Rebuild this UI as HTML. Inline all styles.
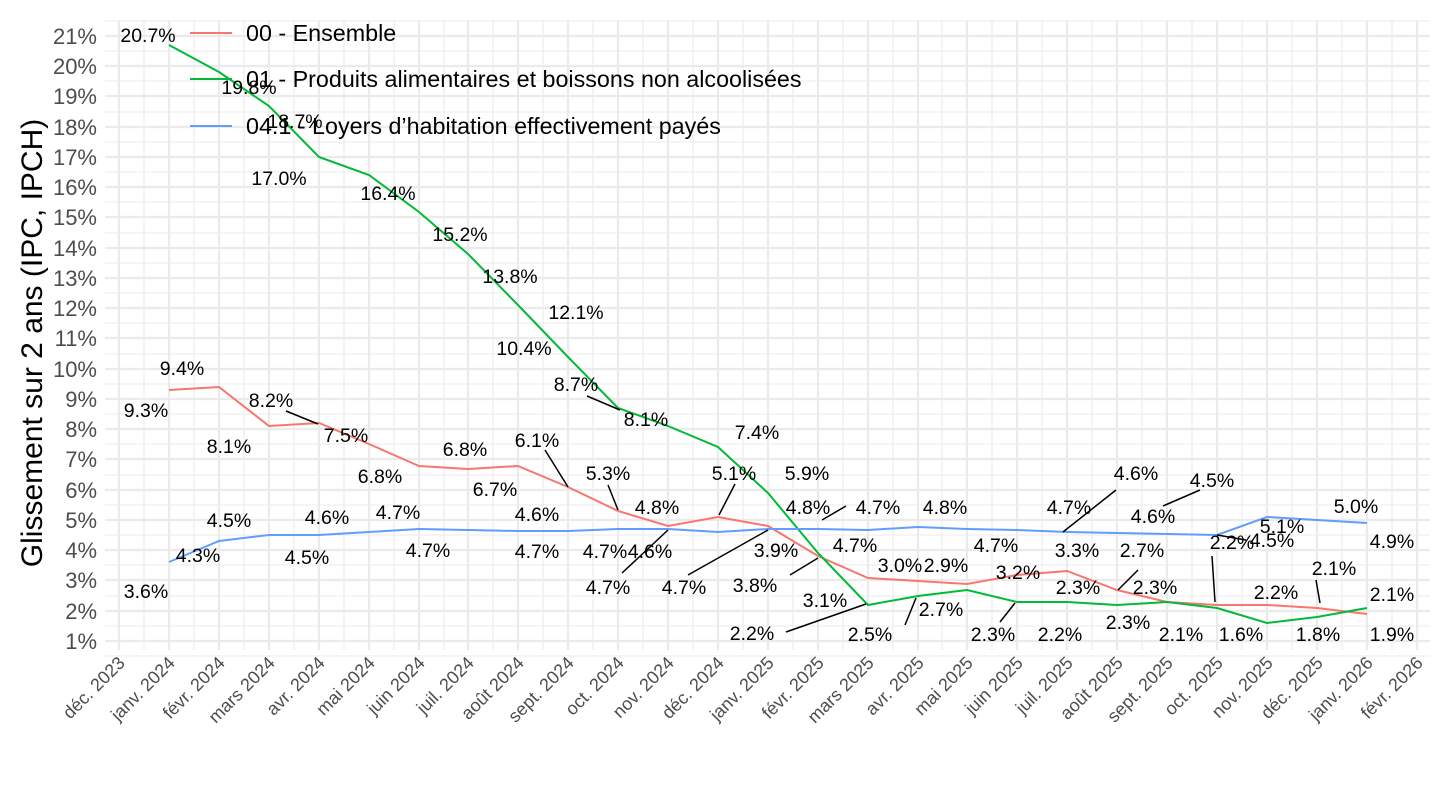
<!DOCTYPE html>
<html><head><meta charset="utf-8"><style>
body{margin:0;background:#fff}
svg{display:block;font-family:"Liberation Sans",sans-serif}
.yt{font-size:22px;fill:#4d4d4d;text-anchor:end}
.xt{font-size:18px;fill:#4d4d4d;text-anchor:end}
.lb{font-size:19.5px;fill:#000;text-anchor:middle}
.lg{font-size:23.3px;fill:#000}
</style></head><body>
<svg width="1440" height="810" viewBox="0 0 1440 810">
<g stroke="#ebebeb" stroke-width="1.1">
<line x1="105" x2="1430" y1="656" y2="656"/><line x1="105" x2="1430" y1="626" y2="626"/><line x1="105" x2="1430" y1="596" y2="596"/><line x1="105" x2="1430" y1="565" y2="565"/><line x1="105" x2="1430" y1="535" y2="535"/><line x1="105" x2="1430" y1="505" y2="505"/><line x1="105" x2="1430" y1="475" y2="475"/><line x1="105" x2="1430" y1="444" y2="444"/><line x1="105" x2="1430" y1="414" y2="414"/><line x1="105" x2="1430" y1="384" y2="384"/><line x1="105" x2="1430" y1="354" y2="354"/><line x1="105" x2="1430" y1="323" y2="323"/><line x1="105" x2="1430" y1="293" y2="293"/><line x1="105" x2="1430" y1="263" y2="263"/><line x1="105" x2="1430" y1="233" y2="233"/><line x1="105" x2="1430" y1="202" y2="202"/><line x1="105" x2="1430" y1="172" y2="172"/><line x1="105" x2="1430" y1="142" y2="142"/><line x1="105" x2="1430" y1="112" y2="112"/><line x1="105" x2="1430" y1="81" y2="81"/><line x1="105" x2="1430" y1="51" y2="51"/><line x1="105" x2="1430" y1="21" y2="21"/>
<line y1="20" y2="650" x1="144" x2="144"/><line y1="20" y2="650" x1="194" x2="194"/><line y1="20" y2="650" x1="244" x2="244"/><line y1="20" y2="650" x1="294" x2="294"/><line y1="20" y2="650" x1="344" x2="344"/><line y1="20" y2="650" x1="394" x2="394"/><line y1="20" y2="650" x1="444" x2="444"/><line y1="20" y2="650" x1="493" x2="493"/><line y1="20" y2="650" x1="543" x2="543"/><line y1="20" y2="650" x1="593" x2="593"/><line y1="20" y2="650" x1="643" x2="643"/><line y1="20" y2="650" x1="693" x2="693"/><line y1="20" y2="650" x1="743" x2="743"/><line y1="20" y2="650" x1="793" x2="793"/><line y1="20" y2="650" x1="843" x2="843"/><line y1="20" y2="650" x1="893" x2="893"/><line y1="20" y2="650" x1="942" x2="942"/><line y1="20" y2="650" x1="992" x2="992"/><line y1="20" y2="650" x1="1042" x2="1042"/><line y1="20" y2="650" x1="1092" x2="1092"/><line y1="20" y2="650" x1="1142" x2="1142"/><line y1="20" y2="650" x1="1192" x2="1192"/><line y1="20" y2="650" x1="1242" x2="1242"/><line y1="20" y2="650" x1="1292" x2="1292"/><line y1="20" y2="650" x1="1342" x2="1342"/><line y1="20" y2="650" x1="1392" x2="1392"/>
</g>
<g stroke="#ebebeb" stroke-width="2.2">
<line x1="105" x2="1430" y1="641" y2="641"/><line x1="105" x2="1430" y1="611" y2="611"/><line x1="105" x2="1430" y1="580" y2="580"/><line x1="105" x2="1430" y1="550" y2="550"/><line x1="105" x2="1430" y1="520" y2="520"/><line x1="105" x2="1430" y1="490" y2="490"/><line x1="105" x2="1430" y1="459" y2="459"/><line x1="105" x2="1430" y1="429" y2="429"/><line x1="105" x2="1430" y1="399" y2="399"/><line x1="105" x2="1430" y1="369" y2="369"/><line x1="105" x2="1430" y1="338" y2="338"/><line x1="105" x2="1430" y1="308" y2="308"/><line x1="105" x2="1430" y1="278" y2="278"/><line x1="105" x2="1430" y1="248" y2="248"/><line x1="105" x2="1430" y1="217" y2="217"/><line x1="105" x2="1430" y1="187" y2="187"/><line x1="105" x2="1430" y1="157" y2="157"/><line x1="105" x2="1430" y1="127" y2="127"/><line x1="105" x2="1430" y1="96" y2="96"/><line x1="105" x2="1430" y1="66" y2="66"/><line x1="105" x2="1430" y1="36" y2="36"/>
<line y1="20" y2="650" x1="119" x2="119"/><line y1="20" y2="650" x1="169" x2="169"/><line y1="20" y2="650" x1="219" x2="219"/><line y1="20" y2="650" x1="269" x2="269"/><line y1="20" y2="650" x1="319" x2="319"/><line y1="20" y2="650" x1="369" x2="369"/><line y1="20" y2="650" x1="419" x2="419"/><line y1="20" y2="650" x1="468" x2="468"/><line y1="20" y2="650" x1="518" x2="518"/><line y1="20" y2="650" x1="568" x2="568"/><line y1="20" y2="650" x1="618" x2="618"/><line y1="20" y2="650" x1="668" x2="668"/><line y1="20" y2="650" x1="718" x2="718"/><line y1="20" y2="650" x1="768" x2="768"/><line y1="20" y2="650" x1="818" x2="818"/><line y1="20" y2="650" x1="868" x2="868"/><line y1="20" y2="650" x1="918" x2="918"/><line y1="20" y2="650" x1="967" x2="967"/><line y1="20" y2="650" x1="1017" x2="1017"/><line y1="20" y2="650" x1="1067" x2="1067"/><line y1="20" y2="650" x1="1117" x2="1117"/><line y1="20" y2="650" x1="1167" x2="1167"/><line y1="20" y2="650" x1="1217" x2="1217"/><line y1="20" y2="650" x1="1267" x2="1267"/><line y1="20" y2="650" x1="1317" x2="1317"/><line y1="20" y2="650" x1="1367" x2="1367"/><line y1="20" y2="650" x1="1417" x2="1417"/>
</g>
<g class="yt">
<text x="97" y="649">1%</text><text x="97" y="619">2%</text><text x="97" y="588">3%</text><text x="97" y="558">4%</text><text x="97" y="528">5%</text><text x="97" y="498">6%</text><text x="97" y="467">7%</text><text x="97" y="437">8%</text><text x="97" y="407">9%</text><text x="97" y="377">10%</text><text x="97" y="346">11%</text><text x="97" y="316">12%</text><text x="97" y="286">13%</text><text x="97" y="256">14%</text><text x="97" y="225">15%</text><text x="97" y="195">16%</text><text x="97" y="165">17%</text><text x="97" y="135">18%</text><text x="97" y="104">19%</text><text x="97" y="74">20%</text><text x="97" y="44">21%</text>
</g>
<text transform="translate(42,343) rotate(-90)" text-anchor="middle" font-size="30" fill="#000">Glissement sur 2 ans (IPC, IPCH)</text>
<g class="xt">
<text transform="translate(126,664) rotate(-45)">déc. 2023</text><text transform="translate(176,664) rotate(-45)">janv. 2024</text><text transform="translate(226,664) rotate(-45)">févr. 2024</text><text transform="translate(276,664) rotate(-45)">mars 2024</text><text transform="translate(326,664) rotate(-45)">avr. 2024</text><text transform="translate(376,664) rotate(-45)">mai 2024</text><text transform="translate(426,664) rotate(-45)">juin 2024</text><text transform="translate(475,664) rotate(-45)">juil. 2024</text><text transform="translate(525,664) rotate(-45)">août 2024</text><text transform="translate(575,664) rotate(-45)">sept. 2024</text><text transform="translate(625,664) rotate(-45)">oct. 2024</text><text transform="translate(675,664) rotate(-45)">nov. 2024</text><text transform="translate(725,664) rotate(-45)">déc. 2024</text><text transform="translate(775,664) rotate(-45)">janv. 2025</text><text transform="translate(825,664) rotate(-45)">févr. 2025</text><text transform="translate(875,664) rotate(-45)">mars 2025</text><text transform="translate(925,664) rotate(-45)">avr. 2025</text><text transform="translate(974,664) rotate(-45)">mai 2025</text><text transform="translate(1024,664) rotate(-45)">juin 2025</text><text transform="translate(1074,664) rotate(-45)">juil. 2025</text><text transform="translate(1124,664) rotate(-45)">août 2025</text><text transform="translate(1174,664) rotate(-45)">sept. 2025</text><text transform="translate(1224,664) rotate(-45)">oct. 2025</text><text transform="translate(1274,664) rotate(-45)">nov. 2025</text><text transform="translate(1324,664) rotate(-45)">déc. 2025</text><text transform="translate(1374,664) rotate(-45)">janv. 2026</text><text transform="translate(1424,664) rotate(-45)">févr. 2026</text>
</g>
<g fill="none" stroke-width="2">
<polyline stroke="#f8766d" points="169,390 219,387 269,426 319,423 369,444 419,466 468,469 518,466 568,487 618,511 668,526 718,517 768,526 818,556 868,578 918,581 967,584 1017,575 1067,571 1117,590 1167,602 1217,605 1267,605 1317,608 1367,614"/>
<polyline stroke="#00ba38" points="169,45 219,72 269,106 319,157 369,175 419,212 468,254 518,305 568,357 618,408 668,426 718,447 768,493 818,553 868,605 918,596 967,590 1017,602 1067,602 1117,605 1167,602 1217,608 1267,623 1317,617 1367,608"/>
<polyline stroke="#619cff" points="169,562 219,541 269,535 319,535 369,532 419,529 468,530 518,531 568,531 618,529 668,529 718,532 768,529 818,529 868,530 918,527 967,529 1017,530 1067,532 1117,533 1167,534 1217,535 1267,517 1317,520 1367,523"/>
</g>
<g stroke="#000" stroke-width="1.5">
<line x1="286" y1="411" x2="318" y2="424"/><line x1="587" y1="396" x2="620" y2="410"/><line x1="545" y1="450" x2="568" y2="487"/><line x1="608" y1="485" x2="618" y2="510"/><line x1="735" y1="484" x2="719" y2="515"/><line x1="688" y1="575" x2="768" y2="530"/><line x1="622" y1="573" x2="668" y2="530"/><line x1="786" y1="632" x2="866" y2="604"/><line x1="790" y1="575" x2="818" y2="558"/><line x1="822" y1="520" x2="846" y2="506"/><line x1="1000" y1="622" x2="1015" y2="603"/><line x1="1063" y1="532" x2="1116" y2="490"/><line x1="1118" y1="590" x2="1138" y2="570"/><line x1="1163" y1="506" x2="1200" y2="490"/><line x1="1212" y1="556" x2="1215" y2="602"/><line x1="1246" y1="540" x2="1217" y2="535"/><line x1="1316" y1="580" x2="1320" y2="603"/><line x1="905" y1="625" x2="916" y2="598"/>
</g>
<g class="lb">
<text x="148" y="42">20.7%</text><text x="249" y="94">19.8%</text><text x="295" y="128">18.7%</text><text x="279" y="185">17.0%</text><text x="388" y="200">16.4%</text><text x="460" y="241">15.2%</text><text x="510" y="283">13.8%</text><text x="576" y="319">12.1%</text><text x="524" y="355">10.4%</text><text x="576" y="391">8.7%</text><text x="646" y="426">8.1%</text><text x="757" y="439">7.4%</text><text x="807" y="480">5.9%</text>
<text x="182" y="375">9.4%</text><text x="146" y="417">9.3%</text><text x="271" y="407">8.2%</text><text x="229" y="453">8.1%</text><text x="346" y="442">7.5%</text><text x="380" y="483">6.8%</text><text x="465" y="456">6.8%</text><text x="495" y="496">6.7%</text><text x="537" y="447">6.1%</text><text x="608" y="480">5.3%</text>
<text x="537" y="521">4.6%</text><text x="229" y="527">4.5%</text><text x="198" y="562">4.3%</text><text x="146" y="598">3.6%</text><text x="327" y="524">4.6%</text><text x="307" y="564">4.5%</text><text x="398" y="519">4.7%</text><text x="428" y="557">4.7%</text><text x="537" y="558">4.7%</text><text x="605" y="558">4.7%</text><text x="608" y="594">4.7%</text><text x="657" y="514">4.8%</text><text x="650" y="558">4.6%</text><text x="684" y="594">4.7%</text>
<text x="734" y="480">5.1%</text><text x="776" y="557">3.9%</text><text x="808" y="514">4.8%</text><text x="878" y="514">4.7%</text><text x="855" y="552">4.7%</text><text x="755" y="592">3.8%</text><text x="825" y="607">3.1%</text><text x="752" y="640">2.2%</text>
<text x="945" y="514">4.8%</text><text x="900" y="572">3.0%</text><text x="946" y="572">2.9%</text><text x="870" y="641">2.5%</text><text x="941" y="616">2.7%</text><text x="996" y="552">4.7%</text><text x="1018" y="579">3.2%</text><text x="993" y="641">2.3%</text>
<text x="1069" y="514">4.7%</text><text x="1136" y="480">4.6%</text><text x="1077" y="557">3.3%</text><text x="1078" y="594">2.3%</text><text x="1060" y="641">2.2%</text><text x="1142" y="557">2.7%</text><text x="1155" y="594">2.3%</text><text x="1128" y="629">2.3%</text>
<text x="1212" y="487">4.5%</text><text x="1153" y="523">4.6%</text><text x="1232" y="549">2.2%</text><text x="1272" y="547">4.5%</text><text x="1181" y="641">2.1%</text><text x="1241" y="641">1.6%</text><text x="1282" y="533">5.1%</text><text x="1356" y="513">5.0%</text><text x="1276" y="599">2.2%</text><text x="1334" y="575">2.1%</text><text x="1318" y="641">1.8%</text><text x="1392" y="548">4.9%</text><text x="1392" y="601">2.1%</text><text x="1392" y="641">1.9%</text>
</g>
<g stroke-width="2">
<line x1="190" x2="232" y1="33" y2="33" stroke="#f8766d"/><line x1="190" x2="232" y1="79" y2="79" stroke="#00ba38"/><line x1="190" x2="232" y1="126" y2="126" stroke="#619cff"/>
</g>
<g class="lg">
<text x="246" y="41">00 - Ensemble</text><text x="246" y="87">01 - Produits alimentaires et boissons non alcoolisées</text><text x="246" y="134">04.1 - Loyers d’habitation effectivement payés</text>
</g>
</svg>
</body></html>
